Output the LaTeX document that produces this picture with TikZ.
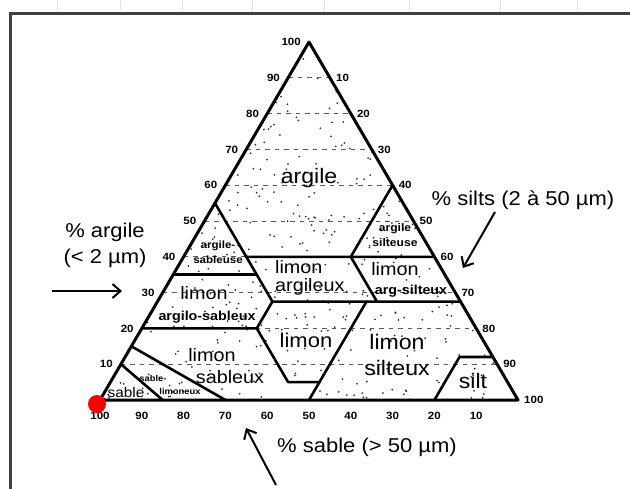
\documentclass[tikz,border=0pt]{standalone}
\usepackage{fontspec}
\setmainfont[FakeStretch=1.1]{Liberation Sans}
\usetikzlibrary{arrows.meta,positioning,calc}
\tikzset{
    zone/.style={
        align=center,
        inner sep=0pt,
        font=\fontsize{18}{18}\selectfont
    },
    smallbold/.style={
        align=center,
        inner sep=0pt,
        font=\fontsize{11}{15}\selectfont\bfseries
    },
    ticklbl/.style={
        inner sep=0pt,
        font=\fontsize{10.5}{11}\selectfont\bfseries
    },
    axis/.style={
        align=center,
        inner sep=0pt,
        font=\fontsize{20}{26}\selectfont
    },
    limit/.style={
        line width=2.6pt,
        line join=round,
        line cap=round
    },
    gridline/.style={
        black!65,
        line width=0.8pt,
        dash pattern=on 4.5pt off 5pt
    },
    speck/.style={fill=black!80},
    arrow/.style={
        -{Straight Barb[length=8pt,width=14pt]},
        line width=2pt
    }
}

\begin{document}
\begin{tikzpicture}[x=1pt,y=-1pt]
\useasboundingbox (0,0) rectangle (630,488);

% sheet behind the figure
\foreach \gx in {57,120,182,252,324,409,500,577}
    \draw[black!10, line width=0.6pt] (\gx,0) -- (\gx,11);
\draw[black!75, line width=3pt] (10,500) -- (10,13) -- (640,13);

\coordinate (sa) at (100,400);
\coordinate (si) at (518,400);
\coordinate (cl) at (309,42);

\foreach \i [evaluate=\i as \c using \i/100,
             evaluate=\i as \j using 1-\i/100] in {10,20,...,90}
    \draw[gridline] (barycentric cs:cl=\c,si=0,sa=\j)
        -- (barycentric cs:cl=\c,si=\j,sa=0);

\pgfmathsetseed{11}
\foreach \k in {1,...,330}{
    \pgfmathsetmacro{\u}{rnd}
    \pgfmathsetmacro{\v}{rnd}
    \pgfmathsetmacro{\ps}{\u+\v>1 ? 1-\u : \u}
    \pgfmathsetmacro{\pc}{\u+\v>1 ? 1-\v : \v}
    \fill[speck] ({100+418*\ps+209*\pc},{400-358*\pc}) circle (1);
}

% class limits (clay, silt, sand)
\coordinate (l55) at (barycentric cs:cl=.55,si=0,sa=.45);
\coordinate (l35) at (barycentric cs:cl=.35,si=0,sa=.65);
\coordinate (l20) at (barycentric cs:cl=.20,si=0,sa=.80);
\coordinate (l15) at (barycentric cs:cl=.15,si=0,sa=.85);
\coordinate (l10) at (barycentric cs:cl=.10,si=0,sa=.90);
\coordinate (r60) at (barycentric cs:cl=.60,si=.40,sa=0);
\coordinate (r40) at (barycentric cs:cl=.40,si=.60,sa=0);
\coordinate (r27) at (barycentric cs:cl=.275,si=.725,sa=0);
\coordinate (r12) at (barycentric cs:cl=.12,si=.88,sa=0);
\coordinate (b15) at (barycentric cs:cl=0,si=.15,sa=.85);
\coordinate (b30) at (barycentric cs:cl=0,si=.30,sa=.70);
\coordinate (b50) at (barycentric cs:cl=0,si=.50,sa=.50);
\coordinate (b80) at (barycentric cs:cl=0,si=.80,sa=.20);
\coordinate (pa) at (barycentric cs:cl=.40,si=.15,sa=.45);
\coordinate (pb) at (barycentric cs:cl=.35,si=.20,sa=.45);
\coordinate (pc) at (barycentric cs:cl=.275,si=.275,sa=.45);
\coordinate (pd) at (barycentric cs:cl=.40,si=.40,sa=.20);
\coordinate (pe) at (barycentric cs:cl=.275,si=.525,sa=.20);
\coordinate (pf) at (barycentric cs:cl=.275,si=.50,sa=.225);
\coordinate (pg) at (barycentric cs:cl=.20,si=.275,sa=.525);
\coordinate (ph) at (barycentric cs:cl=.05,si=.425,sa=.525);
\coordinate (pi) at (barycentric cs:cl=.05,si=.50,sa=.45);
\coordinate (pj) at (barycentric cs:cl=.12,si=.80,sa=.08);

\draw[limit] (l55) -- (pc);
\draw[limit] (l35) -- (pb);
\draw[limit] (pa) -- (r40);
\draw[limit] (r60) -- (pd) -- (pe);
\draw[limit] (pc) -- (r27);
\draw[limit] (l20) -- (pg) -- (pc);
\draw[limit] (pg) -- (ph) -- (pi);
\draw[limit] (pf) -- (b50);
\draw[limit] (l15) -- (b30);
\draw[limit] (l10) -- (b15);
\draw[limit] (b80) -- (pj) -- (r12);
\draw[limit, line width=3pt] (sa) -- (si) -- (cl) -- cycle;

\foreach \i [evaluate=\i as \c using \i/100,
             evaluate=\i as \j using 1-\i/100] in {10,20,...,100}{
    \node[ticklbl, anchor=east, xshift=-8pt] (tl\i)
        at (barycentric cs:cl=\c,si=0,sa=\j) {\i};
    \node[ticklbl, anchor=west, xshift=6pt] (tr\i)
        at (barycentric cs:cl=\j,si=\c,sa=0) {\i};
    \node[ticklbl, anchor=north, yshift=-12pt] (tb\i)
        at (barycentric cs:cl=0,si=\j,sa=\c) {\i};
}
\node[circle, fill=red, minimum size=18pt, inner sep=0pt] (origin) at (97,404) {};

% class names
\node[zone, font=\fontsize{21}{21}\selectfont] (argile) at (309,178) {argile};
\node[smallbold, font=\fontsize{10.5}{15}\selectfont\bfseries] (argsab) at (218,252) {argile-\\sableuse};
\node[smallbold] (argsil) at (395,235) {argile\\silteuse};
\node[zone, align=left, anchor=west] (limarg) at (275,278) {limon\\argileux};
\node[zone] (lasname) at (395,269) {limon};
\node[smallbold, font=\fontsize{13}{13}\selectfont\bfseries] (lassub) at (411,291) {arg-silteux};
\node[zone] (lsaname) at (204,293) {limon};
\node[smallbold, font=\fontsize{13}{13}\selectfont\bfseries] (lsasub) at (207,317) {argilo-sableux};
\node[zone, font=\fontsize{20}{20}\selectfont] (limon) at (306,340) {limon};
\node[zone, font=\fontsize{21}{26}\selectfont] (limsil) at (397,355) {limon\\silteux};
\node[zone] (lsbname) at (212,355) {limon};
\node[zone] (lsbsub) at (230,377) {sableux};
\node[smallbold, font=\fontsize{8.5}{9}\selectfont\bfseries] (sblname) at (153,378) {sable-};
\node[smallbold, font=\fontsize{8.5}{9}\selectfont\bfseries] (sblsub) at (180,391) {limoneux};
\node[zone, font=\fontsize{14}{14}\selectfont] (sable) at (126,392) {sable};
\node[zone, font=\fontsize{21}{21}\selectfont] (silt) at (473,381) {silt};

% axis names
\node[axis] (clayname) at (105,245) {\% argile\\(< 2 µm)};
\node[axis] (siltname) at (523,200) {\% silts (2 à 50 µm)};
\node[axis] (sandname) at (367,447) {\% sable (> 50 µm)};

\coordinate (claytail) at (52,291);
\coordinate (clayhead) at (122,291);
\coordinate (silttail) at (495,212);
\coordinate (silthead) at (463,268);
\coordinate (sandtail) at (276,485);
\coordinate (sandhead) at (246,428);
\draw[arrow] (claytail) -- (clayhead);
\draw[arrow] (silttail) -- (silthead);
\draw[arrow] (sandtail) -- (sandhead);

\end{tikzpicture}
\end{document}
